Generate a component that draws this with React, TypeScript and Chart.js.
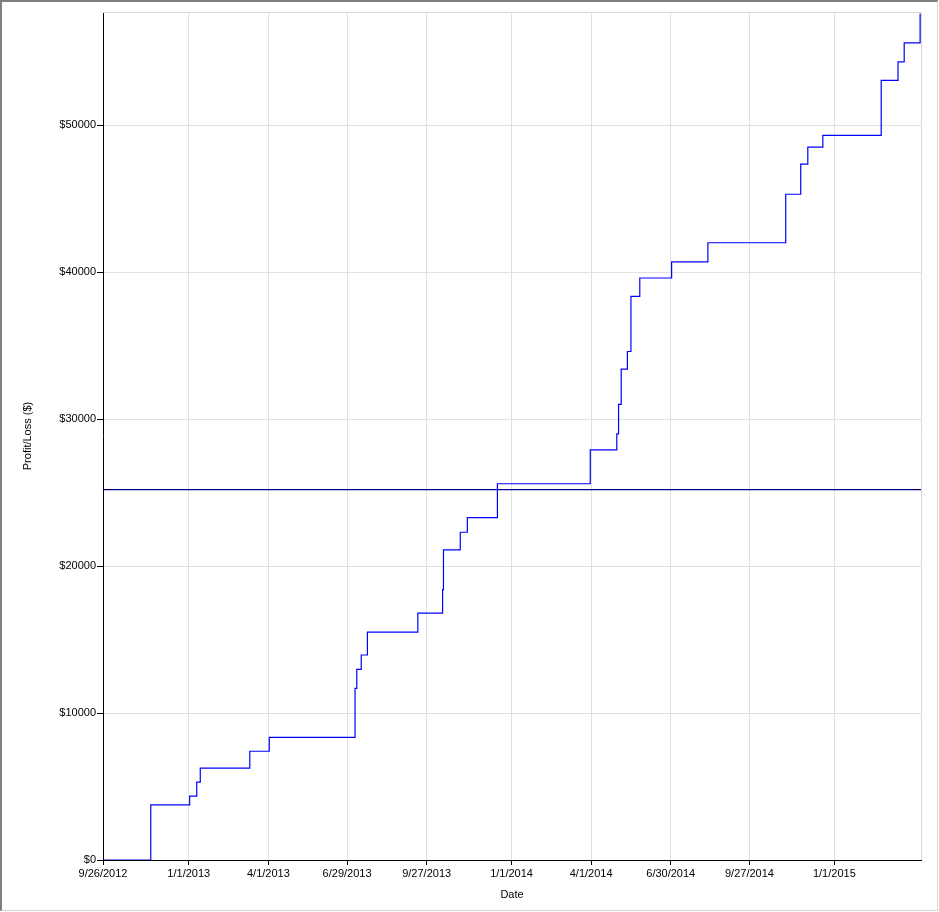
import React, { useEffect, useRef } from "react";
import { Chart, registerables } from "chart.js";
Chart.register(...registerables);

const START_DATE = "2012-09-26";
const END_DATE = "2015-04-09";

const tradeDates = [
  "2012-09-26", "2012-11-19", "2013-01-02", "2013-01-10", "2013-01-14",
  "2013-03-11", "2013-04-02", "2013-07-08", "2013-07-10", "2013-07-15",
  "2013-07-22", "2013-09-17", "2013-10-15", "2013-10-16", "2013-11-04",
  "2013-11-12", "2013-12-16", "2014-03-31", "2014-04-30", "2014-05-02",
  "2014-05-05", "2014-05-12", "2014-05-16", "2014-05-26", "2014-07-01",
  "2014-08-11", "2014-11-07", "2014-11-24", "2014-12-02", "2014-12-19",
  "2015-02-23", "2015-03-14", "2015-03-21", "2015-04-08",
];

const cumulativePL = [
  0, 3750, 4350, 5300, 6250,
  7400, 8350, 11680, 12970, 13950,
  15500, 16800, 18400, 21100, 22300,
  23300, 25600, 27900, 29000, 31000,
  33400, 34600, 38350, 39600, 40700,
  42000, 45300, 47350, 48500, 49300,
  53050, 54300, 55600, 57600,
];

const xTickDates = [
  "2012-09-26", "2013-01-01", "2013-04-01", "2013-06-29", "2013-09-27",
  "2014-01-01", "2014-04-01", "2014-06-30", "2014-09-27", "2015-01-01",
];

const yTickValues = [0, 10000, 20000, 30000, 40000, 50000];
const Y_MAX = 57700;
const referenceLevel = 25200;

function dayOf(s: string): number {
  const [y, m, d] = s.split("-").map(Number);
  const [y0, m0, d0] = START_DATE.split("-").map(Number);
  return Math.round((Date.UTC(y, m - 1, d) - Date.UTC(y0, m0 - 1, d0)) / 86400000);
}

function labelOfDay(v: number): string {
  const [y0, m0, d0] = START_DATE.split("-").map(Number);
  const dt = new Date(Date.UTC(y0, m0 - 1, d0) + v * 86400000);
  return `${dt.getUTCMonth() + 1}/${dt.getUTCDate()}/${dt.getUTCFullYear()}`;
}

const FONT = { family: "'Liberation Sans', Arial, sans-serif", size: 11 };

const frameLines = {
  id: "frameLines",
  beforeDatasetsDraw(chart: any) {
    const { ctx, chartArea } = chart;
    ctx.save();
    ctx.strokeStyle = "#d9d9d9";
    ctx.lineWidth = 1;
    ctx.beginPath();
    ctx.moveTo(chartArea.left, chartArea.top + 0.5);
    ctx.lineTo(chartArea.right + 0.5, chartArea.top + 0.5);
    ctx.lineTo(chartArea.right + 0.5, chartArea.bottom);
    ctx.stroke();
    ctx.restore();
  },
};

export default function App() {
  const ref = useRef<HTMLCanvasElement | null>(null);

  useEffect(() => {
    document.body.style.margin = "0";
    if (!ref.current) return;
    const xMax = dayOf(END_DATE);
    const chart = new Chart(ref.current, {
      type: "line",
      data: {
        datasets: [
          {
            data: tradeDates.map((d, i) => ({ x: dayOf(d), y: cumulativePL[i] })),
            borderColor: "#0000ff",
            borderWidth: 1.2,
            pointRadius: 0,
            stepped: true,
            fill: false,
          },
          {
            data: [
              { x: 0, y: referenceLevel },
              { x: xMax, y: referenceLevel },
            ],
            borderColor: "#00008c",
            borderWidth: 1.2,
            pointRadius: 0,
            fill: false,
          },
        ],
      },
      options: {
        animation: false,
        responsive: false,
        maintainAspectRatio: false,
        layout: { padding: { left: 0, top: 12, right: 18, bottom: 0 } },
        plugins: { legend: { display: false }, tooltip: { enabled: false } },
        scales: {
          x: {
            type: "linear",
            min: 0,
            max: xMax,
            afterBuildTicks: (scale: any) => {
              scale.ticks = xTickDates.map((d) => ({ value: dayOf(d) }));
            },
            afterFit: (scale: any) => {
              scale.height = 52;
            },
            ticks: {
              autoSkip: false,
              maxRotation: 0,
              minRotation: 0,
              padding: 2,
              color: "#000",
              font: FONT,
              callback: (v: any) => labelOfDay(Number(v)),
            },
            grid: {
              color: "#e0e0e0",
              lineWidth: 1,
              tickLength: 5,
              tickColor: "#000",
              drawTicks: true,
            },
            border: { display: true, color: "#000", width: 1 },
            title: {
              display: true,
              text: "Date",
              color: "#000",
              font: FONT,
              padding: { top: 0, bottom: 10 },
            },
          },
          y: {
            type: "linear",
            min: 0,
            max: Y_MAX,
            afterBuildTicks: (scale: any) => {
              scale.ticks = yTickValues.map((v) => ({ value: v }));
            },
            afterFit: (scale: any) => {
              scale.width = 103;
            },
            ticks: {
              padding: 1,
              color: "#000",
              font: FONT,
              callback: (v: any) => "$" + v,
            },
            grid: {
              color: "#e0e0e0",
              lineWidth: 1,
              tickLength: 6,
              tickColor: "#000",
              drawTicks: true,
            },
            border: { display: true, color: "#000", width: 1 },
            title: {
              display: true,
              text: "Profit/Loss ($)",
              color: "#000",
              font: FONT,
              padding: { top: 21, bottom: 0 },
            },
          },
        },
      },
      plugins: [frameLines],
    });
    return () => chart.destroy();
  }, []);

  return (
    <div style={{ position: "absolute", left: 0, top: 0, width: 939, height: 912, background: "#fff" }}>
      <canvas ref={ref} width={939} height={912} style={{ position: "absolute", left: 0, top: 0, width: 939, height: 912 }} />
      <div
        style={{
          position: "absolute",
          left: 0,
          top: 0,
          width: 938,
          height: 911,
          boxSizing: "border-box",
          borderTop: "2px solid #7f7f7f",
          borderLeft: "2px solid #7f7f7f",
          borderRight: "1px solid #d4d4d4",
          borderBottom: "1px solid #d4d4d4",
          pointerEvents: "none",
        }}
      />
    </div>
  );
}
